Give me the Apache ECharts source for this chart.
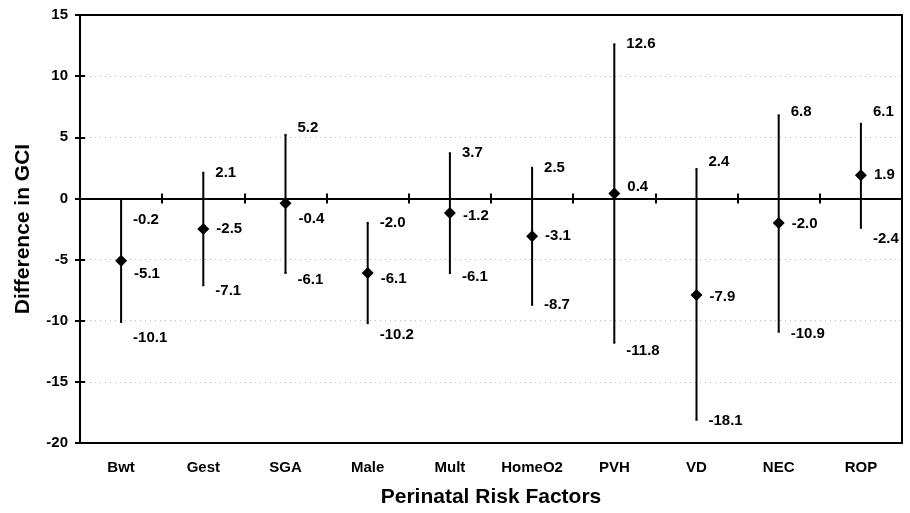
<!DOCTYPE html>
<html>
<head>
<meta charset="utf-8">
<title>Perinatal Risk Factors and GCI</title>
<script src="https://cdn.jsdelivr.net/npm/echarts@6/dist/echarts.min.js"></script>
<style>
  html, body { margin: 0; padding: 0; background: #fff; }
  #chart { width: 910px; height: 513px; }
</style>
</head>
<body>
<div id="chart"></div>
<script>
// Difference in GCI by perinatal risk factor: estimate with 95% limits
const categories = ['Bwt', 'Gest', 'SGA', 'Male', 'Mult', 'HomeO2', 'PVH', 'VD', 'NEC', 'ROP'];
const estimates  = [-5.1, -2.5, -0.4, -6.1, -1.2, -3.1, 0.4, -7.9, -2.0, 1.9];
const lowerLimit = [-10.1, -7.1, -6.1, -10.2, -6.1, -8.7, -11.8, -18.1, -10.9, -2.4];
const upperLimit = [-0.2, 2.1, 5.2, -2.0, 3.7, 2.5, 12.6, 2.4, 6.8, 6.1];
const yTicks = [-20, -15, -10, -5, 0, 5, 10, 15];

// vertical label nudges (px) so the value labels sit clear of lines and each other
const nudgeUpper = [19, 0, -7, 0, 0, 0, 0, -7, -3, -12];
const nudgeEst   = [13, 0, 16, 6, 3, 0, -7, 2, 1, 0];
const nudgeLower = [16, 6, 7, 12, 4, 0, 8, 1, 2, 11];

const FONT = 'Arial, "Liberation Sans", Helvetica, sans-serif';
const yMin = yTicks[0], yMax = yTicks[yTicks.length - 1], yStep = yTicks[1] - yTicks[0];

const labelStyle = {
  show: true, position: 'right', color: '#000', fontFamily: FONT,
  fontWeight: 'bold', fontSize: 15
};

function pointSeries(values, nudges, distance, symbolSize, symbol, color) {
  return {
    type: 'scatter',
    xAxisIndex: 0, yAxisIndex: 0,
    symbol: symbol, symbolSize: symbolSize,
    itemStyle: { color: color, opacity: 1 },
    silent: true, z: 5,
    data: values.map((v, i) => ({
      value: [i, v],
      label: Object.assign({}, labelStyle, {
        distance: distance,
        offset: [0, nudges[i]],
        formatter: v.toFixed(1)
      })
    }))
  };
}

const chart = echarts.init(document.getElementById('chart'), null, { renderer: 'canvas' });

chart.setOption({
  backgroundColor: '#fff',
  animation: false,
  grid: {
    left: 80, right: 8, top: 15, bottom: 68,
    show: true, borderColor: '#000', borderWidth: 2, backgroundColor: 'transparent'
  },
  xAxis: [
    {
      type: 'category', data: categories, position: 'bottom',
      name: 'Perinatal Risk Factors', nameLocation: 'middle', nameGap: 44,
      nameTextStyle: { fontFamily: FONT, fontWeight: 'bold', fontSize: 21, color: '#000' },
      axisLine: { onZero: false, lineStyle: { color: '#000', width: 2 } },
      axisTick: { show: false },
      axisLabel: { margin: 17, color: '#000', fontFamily: FONT, fontWeight: 'bold', fontSize: 15 },
      splitLine: { show: false }
    },
    {
      // zero line with downward ticks between categories
      type: 'category', data: categories, position: 'bottom',
      axisLine: { onZero: true, onZeroAxisIndex: 0, lineStyle: { color: '#000', width: 2 } },
      axisTick: { show: true, inside: false, length: 5, lineStyle: { color: '#000', width: 2 } },
      axisLabel: { show: false },
      splitLine: { show: false }
    },
    {
      // upward half of the zero-line ticks
      type: 'category', data: categories, position: 'top',
      axisLine: { onZero: true, onZeroAxisIndex: 0, lineStyle: { color: '#000', width: 2 } },
      axisTick: { show: true, inside: false, length: 5, lineStyle: { color: '#000', width: 2 } },
      axisLabel: { show: false },
      splitLine: { show: false }
    }
  ],
  yAxis: [
    {
      type: 'value', min: yMin, max: yMax, interval: yStep,
      name: 'Difference in GCI', nameLocation: 'middle', nameGap: 46,
      nameTextStyle: { fontFamily: FONT, fontWeight: 'bold', fontSize: 21, color: '#000' },
      axisLine: { show: true, onZero: false, lineStyle: { color: '#000', width: 2 } },
      axisTick: { show: true, length: 5, lineStyle: { color: '#000', width: 2 } },
      axisLabel: { margin: 12, color: '#000', fontFamily: FONT, fontWeight: 'bold', fontSize: 15 },
      splitLine: {
        show: true, showMinLine: false, showMaxLine: false,
        lineStyle: { color: '#b8b8b8', width: 1, type: [1, 4] }
      }
    },
    {
      // inner half of the value-axis ticks
      type: 'value', min: yMin, max: yMax, interval: yStep, position: 'left',
      axisLine: { show: false, onZero: false },
      axisTick: { show: true, inside: true, length: 5, lineStyle: { color: '#000', width: 2 } },
      axisLabel: { show: false },
      splitLine: { show: false }
    }
  ],
  series: [
    {
      // confidence interval bars
      type: 'custom', xAxisIndex: 0, yAxisIndex: 0, silent: true, z: 3,
      data: categories.map((c, i) => [i, lowerLimit[i], upperLimit[i]]),
      renderItem: function (params, api) {
        const p1 = api.coord([api.value(0), api.value(1)]);
        const p2 = api.coord([api.value(0), api.value(2)]);
        return {
          type: 'line',
          shape: { x1: p1[0], y1: p1[1], x2: p2[0], y2: p2[1] },
          style: { stroke: '#000', lineWidth: 2 }
        };
      }
    },
    pointSeries(upperLimit, nudgeUpper, 11, 2, 'rect', '#000'),
    pointSeries(lowerLimit, nudgeLower, 11, 2, 'rect', '#000'),
    pointSeries(estimates, nudgeEst, 7, 12, 'diamond', '#000')
  ]
});
</script>
</body>
</html>
